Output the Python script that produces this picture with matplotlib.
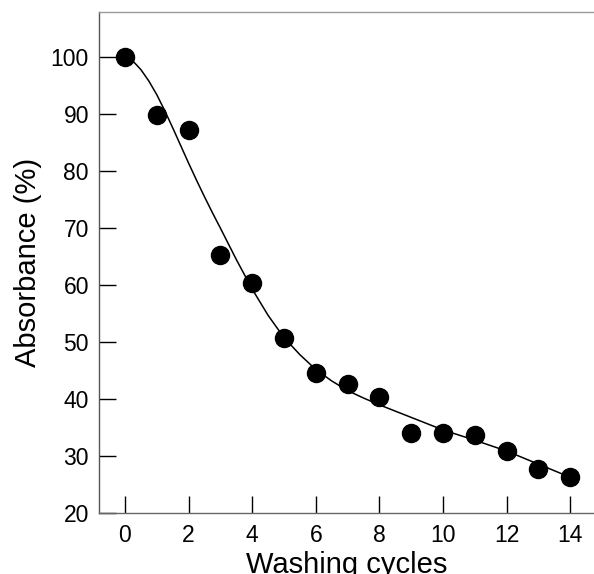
import matplotlib.pyplot as plt

plt.rcParams['font.family'] = ['Liberation Sans', 'DejaVu Sans']

# measured points
cycles = [0, 1, 2, 3, 4, 5, 6, 7, 8, 9, 10, 11, 12, 13, 14]
absorbance = [100, 89.8, 87.2, 65.2, 60.4, 50.8, 44.5, 42.7, 40.3, 34.0, 34.0, 33.7, 30.9, 27.7, 26.3]

# fitted curve
fit_x = [0, 0.25, 0.5, 0.75, 1, 1.25, 1.5, 1.75, 2, 2.25, 2.5, 2.75, 3, 3.5, 4, 4.5,
         5, 5.5, 6, 6.5, 7, 7.5, 8, 9, 10, 11, 12, 13, 14]
fit_y = [100, 99.3, 97.8, 95.8, 93.4, 90.6, 87.6, 84.5, 81.4, 78.4, 75.5, 72.7, 70.0, 64.5, 59.3, 54.7,
         50.8, 47.8, 45.2, 43.2, 41.5, 40.2, 39.0, 36.8, 34.6, 32.8, 30.9, 28.6, 26.3]

fig = plt.figure(figsize=(5.94, 5.74), dpi=100)
ax = fig.add_axes([0.166, 0.106, 0.834, 0.873])

ax.plot(fit_x, fit_y, color='black', linewidth=1.1, zorder=2)
ax.plot(cycles, absorbance, 'o', color='black', markersize=13, zorder=3)

ax.set_xlim(-0.83, 14.75)
ax.set_ylim(20, 107.9)
ax.set_xticks(range(0, 15, 2))
ax.set_yticks(range(20, 101, 10))

ax.tick_params(direction='in', length=12.5, width=1, colors='black', labelsize=16.5)
ax.tick_params(axis='x', pad=8)
ax.tick_params(axis='y', pad=7)
ax.spines['right'].set_visible(False)
ax.spines['left'].set_color('#555555')
ax.spines['top'].set_color('#999999')
ax.spines['bottom'].set_color('#666666')
for s in ax.spines.values():
    s.set_linewidth(1)

ax.set_xlabel("Washing cycles", fontsize=21, labelpad=3)
ax.set_ylabel("Absorbance (%)", fontsize=21, labelpad=6)

fig.savefig("out.png", dpi=100)
